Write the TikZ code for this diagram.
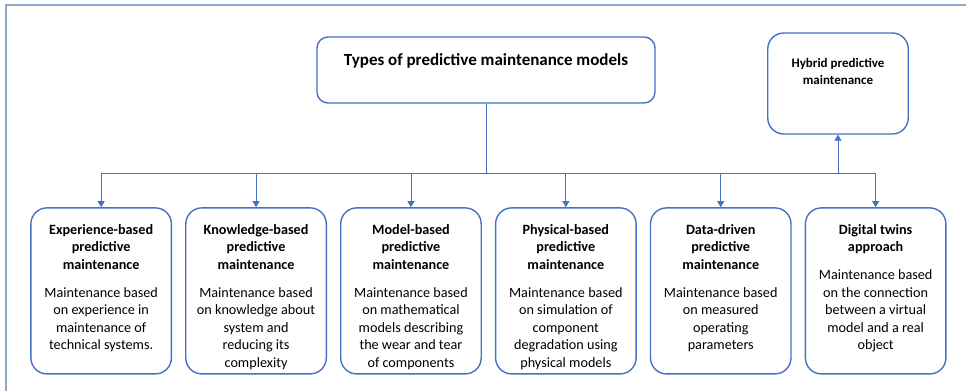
\documentclass[tikz,border=0pt]{standalone}
\usepackage{fontspec}
\setmainfont{Carlito}
\usetikzlibrary{matrix,arrows.meta}
\definecolor{boxblue}{HTML}{4472C4}
\definecolor{framegray}{HTML}{8EA6C9}
% heading on top, description below, in a fixed-height cell
\newcommand{\typetext}[2]{\parbox[c][166pt][t]{140.5pt}{\centering\vspace*{14pt}\strut\textbf{#1}\par\vspace{10pt}#2}}

\begin{document}
\begin{tikzpicture}[x=1pt,y=-1pt,
box/.style={draw=boxblue, line width=1.4pt, rounded corners=16pt, inner sep=0pt, fill=white},
link/.style={draw=boxblue, line width=0.9pt},
arrow/.style={link, -{Triangle[width=7pt,length=6pt]}},
array/.style={matrix of nodes, nodes={box, anchor=north, font=\fontsize{14.2pt}{17.6pt}\selectfont}, column sep=13pt, inner sep=0pt}]

\useasboundingbox (0,0) rectangle (966,391);
\draw[framegray, line width=1.5pt] (6,391) -- (6,5) -- (966,5);

\node[box, rounded corners=11pt, minimum width=338pt, text height=28pt, text depth=38pt,
  font=\fontsize{17pt}{18pt}\selectfont\bfseries] (main) at (486,70) {Types of predictive maintenance models};
\node[box, font=\fontsize{13pt}{17.5pt}\selectfont\bfseries] (hybrid) at (838,83.5)
  {\parbox[c][101pt][t]{140.5pt}{\centering\vspace*{22pt}\strut Hybrid predictive\\maintenance}};

\matrix[array, anchor=north west] (types) at (30,207) {
\typetext{Experience-based\\predictive\\maintenance}{Maintenance based\\on experience in\\maintenance of\\technical systems.} &
\typetext{Knowledge-based\\predictive\\maintenance}{Maintenance based\\on knowledge about\\system and\\reducing its\\complexity} &
\typetext{Model-based\\predictive\\maintenance}{Maintenance based\\on mathematical\\models describing\\the wear and tear\\of components} &
\typetext{Physical-based\\predictive\\maintenance}{Maintenance based\\on simulation of\\component\\degradation using\\physical models} &
\typetext{Data-driven\\predictive\\maintenance}{Maintenance based\\on measured\\operating\\parameters} &
\typetext{Digital twins\\approach}{Maintenance based\\on the connection\\between a virtual\\model and a real\\object} \\
};

% tree connectors
\draw[link] (main.south) -- ++(0,70) coordinate (bus);
\draw[link] (types-1-1.north |- bus) -- (types-1-6.north |- bus);
\foreach \i in {1,...,6}
  \draw[arrow] (types-1-\i.north |- bus) -- (types-1-\i.north);
\draw[arrow] (hybrid.south |- bus) -- (hybrid.south);
\end{tikzpicture}
\end{document}
